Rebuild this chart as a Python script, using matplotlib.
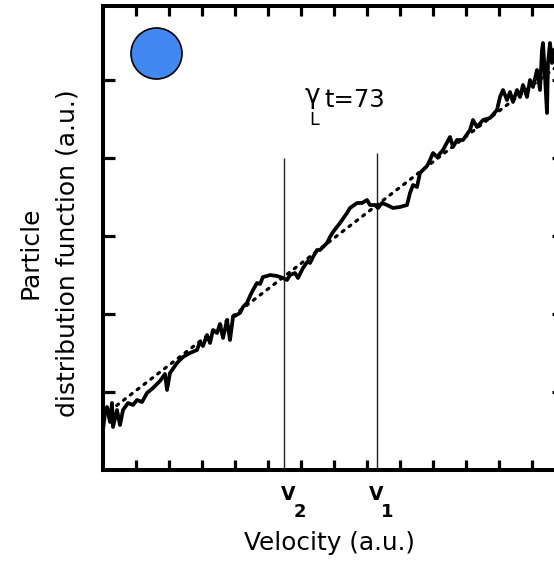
import numpy as np
import matplotlib
matplotlib.use("Agg")
import matplotlib.pyplot as plt

# velocity / distribution values (arbitrary units)
velocity = [0, 2, 4, 7, 9, 10, 14, 17, 20, 25, 30, 34, 39, 44, 50, 57, 62, 64, 67, 74,
            80, 87, 94, 97, 100, 104, 107, 110, 114, 117, 120, 124, 127, 130, 137, 140, 144, 147, 150, 154,
            157, 160, 164, 167, 174, 180, 184, 187, 192, 195, 200, 205, 207, 210, 214, 217, 224, 227, 230, 237,
            244, 247, 254, 259, 264, 267, 272, 275, 279, 284, 290, 297, 304, 307, 310, 314, 317, 324, 327, 330,
            334, 340, 347, 350, 354, 360, 367, 370, 374, 380, 387, 394, 397, 400, 404, 407, 410, 414, 417, 420,
            424, 427, 430, 434, 437, 439, 440, 442, 444, 445, 447, 449, 450, 455, 461]
distribution = [40, 57, 63, 48, 67, 43, 60, 45, 60, 67, 65, 70, 68, 77, 82, 89, 96, 80, 97, 107,
                113, 117, 120, 128, 124, 135, 127, 140, 137, 146, 132, 150, 130, 153, 157, 163, 167, 174, 180, 187,
                186, 193, 194, 195, 194, 192, 190, 195, 197, 192, 202, 209, 207, 213, 220, 220, 227, 233, 238, 247,
                257, 262, 267, 267, 270, 265, 265, 262, 267, 265, 262, 263, 265, 277, 285, 283, 297, 304, 310, 317,
                313, 320, 333, 323, 330, 330, 340, 350, 343, 350, 352, 360, 373, 380, 370, 378, 368, 380, 373, 385,
                373, 390, 383, 400, 380, 420, 427, 393, 357, 407, 427, 407, 420, 415, 425]

# initial (linear) distribution, dotted
fit_v = [0, 461]
fit_f = [54, 409]

# resonant velocities
v_lines = [181, 274]
v_tops = [312, 317]
v_names = ["V", "V"]
v_subs = ["2", "1"]

xticks = np.arange(33, 440, 33)
yticks = [78, 156, 234, 312, 390]

fig = plt.figure(figsize=(5.54, 5.62), dpi=100)
ax = fig.add_axes([103 / 554, 92 / 562, 461 / 554, 464 / 562])

ax.plot(fit_v, fit_f, color="black", lw=2.3, linestyle=(0, (0.7, 2.0)),
        dash_capstyle="round", zorder=2)
ax.plot(velocity, distribution, color="black", lw=2.7, zorder=3)
ax.vlines(v_lines, 0, v_tops, color="#222222", lw=1.0, zorder=1)

ax.scatter([53], [417], s=1350, color="#4189f0", edgecolor="black",
           linewidth=1.2, zorder=4)

ax.set_xlim(0, 461)
ax.set_ylim(0, 464)
ax.set_xticks(xticks)
ax.set_yticks(yticks)
ax.tick_params(axis="x", direction="in", top=True, length=7.5, width=2.3,
               labelbottom=False)
ax.tick_params(axis="y", direction="in", right=True, length=8.5, width=2.3,
               labelleft=False)
for sp in ax.spines.values():
    sp.set_linewidth(2.9)

# gamma_L t = 73
ax.text(202, 367, "γ", fontsize=19, ha="left", va="baseline")
ax.text(206, 345, "L", fontsize=12.5, ha="left", va="baseline")
ax.text(221, 363, "t=73", fontsize=17.5, ha="left", va="baseline")

# V2 / V1 labels under the axis
for v, name, sub, dx in zip(v_lines, v_names, v_subs, [4.5, -0.5]):
    ax.text(v + dx, -30, name, fontsize=13.5, fontweight="bold", ha="center",
            va="baseline", clip_on=False)
    ax.text(v + dx + 11, -47, sub, fontsize=13, fontweight="bold", ha="center",
            va="baseline", clip_on=False)

ax.text(227, -80, "Velocity (a.u.)", fontsize=17.8, ha="center", va="baseline", clip_on=False)
ax.text(-65, 217, "Particle", fontsize=18, rotation=90, rotation_mode="anchor",
        ha="center", va="baseline", clip_on=False)
ax.text(-28, 217, "distribution function (a.u.)", fontsize=18, rotation=90,
        rotation_mode="anchor", ha="center", va="baseline", clip_on=False)

fig.savefig("out.png", dpi=100)
